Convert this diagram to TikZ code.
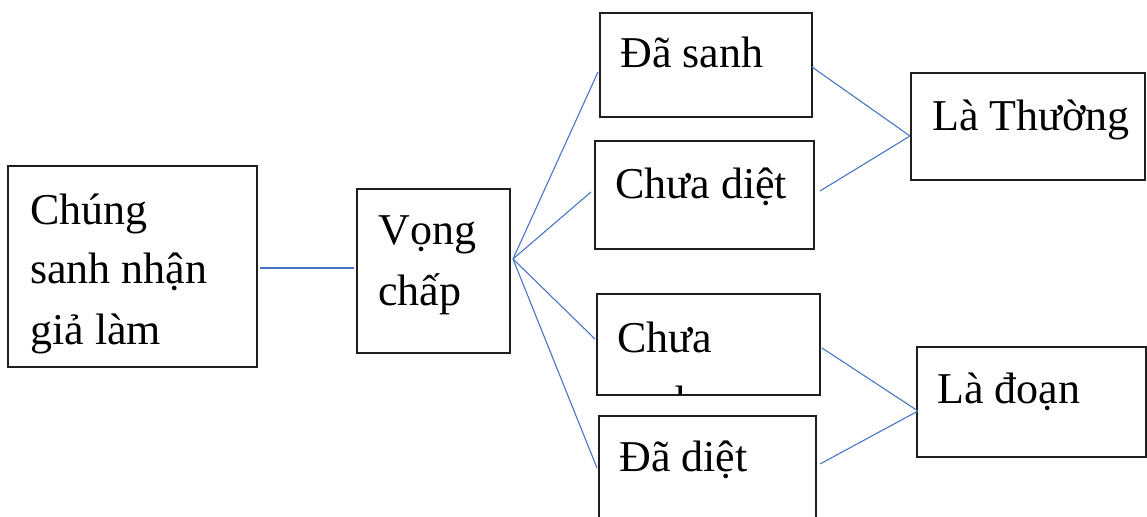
\documentclass[tikz,border=0pt]{standalone}
\usepackage{fontspec}
\setmainfont{Liberation Serif}
\definecolor{linkblue}{RGB}{68,114,196}
\definecolor{boxline}{RGB}{30,30,30}
\begin{document}
\begin{tikzpicture}[x=0.75pt,y=-0.75pt,
  box/.style={draw=boxline, line width=1.1pt, inner sep=0pt},
  conn/.style={draw=linkblue, line width=0.8pt},
  txt/.style={anchor=base west, inner sep=0pt, font=\fontsize{33}{45}\selectfont}]
\clip (0,0) rectangle (1147,517);
% boxes
\node[box, minimum width=186.75pt, minimum height=150.75pt] (A) at (132.5,266.5) {};
\node[box, minimum width=114.75pt, minimum height=123pt] (B) at (433.5,271) {};
\node[box, minimum width=159pt, minimum height=78pt] (C1) at (706,65) {};
\node[box, minimum width=164.25pt, minimum height=81pt] (C2) at (704.5,195) {};
\node[box, minimum width=175.5pt, minimum height=80.25pt] (D1) at (1028,126.5) {};
\node[box, minimum width=167.25pt, minimum height=75.75pt] (C3) at (708.5,344.5) {};
\node[box, minimum width=162.75pt, minimum height=93pt] (C4) at (707.5,478) {};
\node[box, minimum width=171.75pt, minimum height=82.5pt] (D2) at (1031.5,402) {};
% texts
\node[txt] (tA1) at (30,224) {Chúng};
\node[txt] (tA2) at (30,283) {sanh nhận};
\node[txt] (tA3) at (30,344) {giả làm};
\node[txt] (tB1) at (378,244) {Vọng};
\node[txt] (tB2) at (378,305) {chấp};
\node[txt] (tC1) at (620,68) {Đã sanh};
\node[txt] (tC2) at (615,198) {Chưa diệt};
\node[txt] (tD1) at (932,131) {Là Thường};
\node[txt] (tC3) at (617,352) {Chưa};
\begin{scope}
  \clip (597,294) rectangle (820,394);
  \node[txt] (tC3b) at (617,416) {sanh};
\end{scope}
\node[txt] (tC4) at (619,471) {Đã diệt};
\node[txt] (tD2) at (937,403) {Là đoạn};
% connector points
\coordinate (a1) at (260,268);
\coordinate (b1) at (354,268);
\coordinate (hub) at (513,259);
\coordinate (c1w) at (598,72);
\coordinate (c2w) at (591,192);
\coordinate (c3w) at (595,339);
\coordinate (c4w) at (597,468);
\coordinate (c1e) at (812,67);
\coordinate (c2e) at (820,191);
\coordinate (d1w) at (910,136);
\coordinate (c3e) at (822,348);
\coordinate (c4e) at (820,464);
\coordinate (d2w) at (918,411);
% connectors
\draw[conn] (a1) -- (b1);
\draw[conn] (hub) -- (c1w);
\draw[conn] (hub) -- (c2w);
\draw[conn] (hub) -- (c3w);
\draw[conn] (hub) -- (c4w);
\draw[conn] (c1e) -- (d1w);
\draw[conn] (c2e) -- (d1w);
\draw[conn] (c3e) -- (d2w);
\draw[conn] (c4e) -- (d2w);
\end{tikzpicture}
\end{document}
